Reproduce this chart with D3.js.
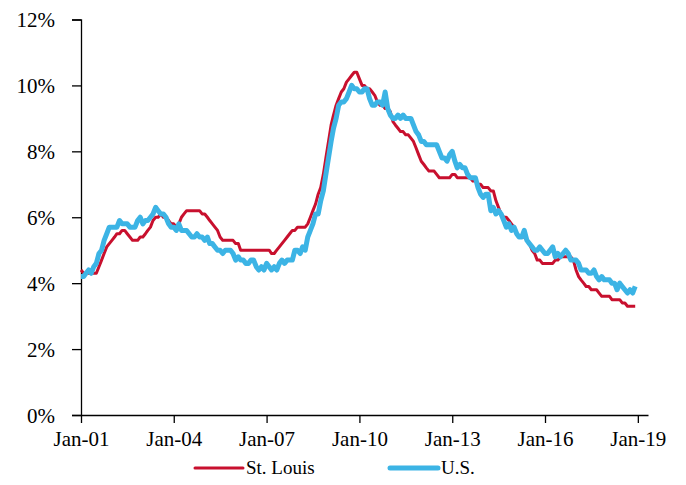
<!DOCTYPE html>
<html>
<head>
<meta charset="utf-8">
<script src="https://cdn.jsdelivr.net/npm/d3@7"></script>
<style>
  body { margin: 0; background: #fff; }
  text { font-family: "Liberation Serif", "Times New Roman", serif; fill: #000; }
</style>
</head>
<body>
<div id="chart"></div>
<script>
// monthly unemployment rate (%), Jan 2001 - Dec 2018
var startMonth = new Date(2001, 0, 1);

var stLouis = [
  4.4, 4.3, 4.3, 4.3, 4.3, 4.3, 4.3, 4.5, 4.7, 4.9, 5.1, 5.2,
  5.3, 5.4, 5.5, 5.5, 5.6, 5.6, 5.5, 5.4, 5.3, 5.3, 5.3, 5.4,
  5.4, 5.5, 5.6, 5.7, 5.9, 6.0, 6.0, 6.1, 6.0, 6.0, 5.9, 5.8,
  5.8, 5.7, 5.8, 6.0, 6.1, 6.2, 6.2, 6.2, 6.2, 6.2, 6.2, 6.1,
  6.1, 6.0, 5.9, 5.8, 5.7, 5.6, 5.4, 5.3, 5.3, 5.3, 5.3, 5.3,
  5.2, 5.2, 5.0, 5.0, 5.0, 5.0, 5.0, 5.0, 5.0, 5.0, 5.0, 5.0,
  5.0, 5.0, 4.9, 4.9, 5.0, 5.1, 5.2, 5.3, 5.4, 5.5, 5.6, 5.6,
  5.7, 5.7, 5.7, 5.7, 5.8, 6.0, 6.2, 6.4, 6.7, 6.9, 7.3, 7.8,
  8.3, 8.8, 9.1, 9.4, 9.6, 9.8, 9.9, 10.1, 10.2, 10.3, 10.4, 10.4,
  10.2, 10.0, 10.0, 9.9, 9.9, 9.8, 9.7, 9.5, 9.4, 9.4, 9.3, 9.3,
  9.2, 8.9, 8.8, 8.7, 8.6, 8.6, 8.5, 8.5, 8.4, 8.3, 8.1, 7.9,
  7.7, 7.6, 7.5, 7.4, 7.4, 7.4, 7.3, 7.2, 7.2, 7.2, 7.2, 7.2,
  7.3, 7.3, 7.2, 7.2, 7.2, 7.2, 7.2, 7.2, 7.1, 7.1, 7.0, 7.0,
  6.9, 6.9, 6.9, 6.8, 6.8, 6.5, 6.3, 6.1, 6.0, 6.0, 5.9, 5.8,
  5.7, 5.5, 5.4, 5.4, 5.4, 5.3, 5.2, 5.0, 4.9, 4.7, 4.7, 4.6,
  4.6, 4.6, 4.6, 4.6, 4.7, 4.7, 4.8, 4.8, 4.8, 4.8, 4.8, 4.7,
  4.4, 4.2, 4.1, 4.0, 3.9, 3.9, 3.8, 3.8, 3.8, 3.7, 3.6, 3.6,
  3.6, 3.6, 3.5, 3.5, 3.5, 3.5, 3.4, 3.4, 3.3, 3.3, 3.3, 3.3
];

var us = [
  4.2, 4.2, 4.3, 4.4, 4.3, 4.5, 4.6, 4.9, 5.0, 5.3, 5.5, 5.7,
  5.7, 5.7, 5.7, 5.9, 5.8, 5.8, 5.8, 5.7, 5.7, 5.7, 5.9, 6.0,
  5.8, 5.9, 5.9, 6.0, 6.1, 6.3, 6.2, 6.1, 6.1, 6.0, 5.8, 5.7,
  5.7, 5.6, 5.8, 5.6, 5.6, 5.6, 5.5, 5.4, 5.4, 5.5, 5.4, 5.4,
  5.3, 5.4, 5.2, 5.2, 5.1, 5.0, 5.0, 4.9, 5.0, 5.0, 5.0, 4.9,
  4.7, 4.8, 4.7, 4.7, 4.6, 4.6, 4.7, 4.7, 4.5, 4.4, 4.5, 4.4,
  4.6, 4.5, 4.4, 4.5, 4.4, 4.6, 4.7, 4.6, 4.7, 4.7, 4.7, 5.0,
  5.0, 4.9, 5.1, 5.0, 5.4, 5.6, 5.8, 6.1, 6.1, 6.5, 6.8, 7.3,
  7.8, 8.3, 8.7, 9.0, 9.4, 9.5, 9.5, 9.6, 9.8, 10.0, 9.9, 9.9,
  9.8, 9.8, 9.9, 9.9, 9.6, 9.4, 9.4, 9.5, 9.5, 9.4, 9.8, 9.3,
  9.1, 9.0, 9.0, 9.1, 9.0, 9.1, 9.0, 9.0, 9.0, 8.8, 8.6, 8.5,
  8.3, 8.3, 8.2, 8.2, 8.2, 8.2, 8.2, 8.0, 7.8, 7.8, 7.7, 7.9,
  8.0, 7.7, 7.5, 7.6, 7.5, 7.5, 7.3, 7.2, 7.2, 7.2, 6.9, 6.7,
  6.6, 6.7, 6.7, 6.2, 6.3, 6.1, 6.2, 6.1, 5.9, 5.7, 5.8, 5.6,
  5.7, 5.5, 5.4, 5.4, 5.6, 5.3, 5.2, 5.1, 5.0, 5.0, 5.1, 5.0,
  4.9, 4.9, 5.0, 5.1, 4.8, 4.9, 4.8, 4.9, 5.0, 4.9, 4.7, 4.7,
  4.7, 4.6, 4.4, 4.4, 4.4, 4.3, 4.3, 4.4, 4.2, 4.1, 4.2, 4.1,
  4.1, 4.1, 4.0, 4.0, 3.8, 4.0, 3.9, 3.8, 3.7, 3.8, 3.7, 3.9
];

var yTicks = [0, 2, 4, 6, 8, 10, 12];
var xTickYears = [2001, 2004, 2007, 2010, 2013, 2016, 2019];
var seriesNames = ["St. Louis", "U.S."];
var seriesColors = ["#c8102e", "#3cb4e5"];

var svgWidth = 686;
var svgHeight = 485;

var svg = d3.select("#chart")
  .append("svg")
  .attr("width", svgWidth)
  .attr("height", svgHeight);

var x = d3.scaleTime()
  .domain([startMonth, new Date(2019, 4, 1)])
  .range([81, 648]);

var y = d3.scaleLinear()
  .domain([0, 12])
  .range([415, 19.5]);

var monthDate = function(i) { return d3.timeMonth.offset(startMonth, i); };

// y axis
var leftAxis = d3.axisLeft(y)
  .tickValues(yTicks)
  .tickFormat(function(d) { return d + "%"; })
  .tickSize(9)
  .tickPadding(17);

svg.append("g")
  .attr("transform", "translate(81,0)")
  .call(leftAxis)
  .call(function(g) {
    g.select(".domain").attr("stroke", "#000").attr("stroke-width", 1.3);
    g.selectAll(".tick line").attr("stroke", "#000").attr("stroke-width", 1.3);
    g.selectAll("text").style("font-size", "21px").attr("dy", "0.34em");
  });

// x axis
var bottomAxis = d3.axisBottom(x)
  .tickValues(xTickYears.map(function(yr) { return new Date(yr, 0, 1); }))
  .tickFormat(d3.timeFormat("%b-%y"))
  .tickSize(8)
  .tickSizeOuter(0)
  .tickPadding(8);

svg.append("g")
  .attr("transform", "translate(0,415)")
  .call(bottomAxis)
  .call(function(g) {
    g.select(".domain").attr("stroke", "#000").attr("stroke-width", 1.3);
    g.selectAll(".tick line").attr("stroke", "#000").attr("stroke-width", 1.3);
    g.selectAll("text").style("font-size", "21px");
  });

var line = d3.line()
  .x(function(d, i) { return x(monthDate(i)); })
  .y(function(d) { return y(d); });

svg.append("path")
  .datum(stLouis)
  .attr("fill", "none")
  .attr("stroke", seriesColors[0])
  .attr("stroke-width", 3)
  .attr("stroke-linejoin", "round")
  .attr("d", line);

svg.append("path")
  .datum(us)
  .attr("fill", "none")
  .attr("stroke", seriesColors[1])
  .attr("stroke-width", 5)
  .attr("stroke-linejoin", "round")
  .attr("d", line);

// legend
var legendX = [195, 390];
var legend = svg.append("g");
seriesNames.forEach(function(name, i) {
  legend.append("line")
    .attr("x1", legendX[i]).attr("x2", legendX[i] + 48)
    .attr("y1", 468).attr("y2", 468)
    .attr("stroke", seriesColors[i])
    .attr("stroke-width", i === 0 ? 3 : 5)
    .attr("stroke-linecap", "round");
  legend.append("text")
    .attr("x", legendX[i] + 51)
    .attr("y", 474)
    .style("font-size", "19px")
    .text(name);
});
</script>
</body>
</html>
